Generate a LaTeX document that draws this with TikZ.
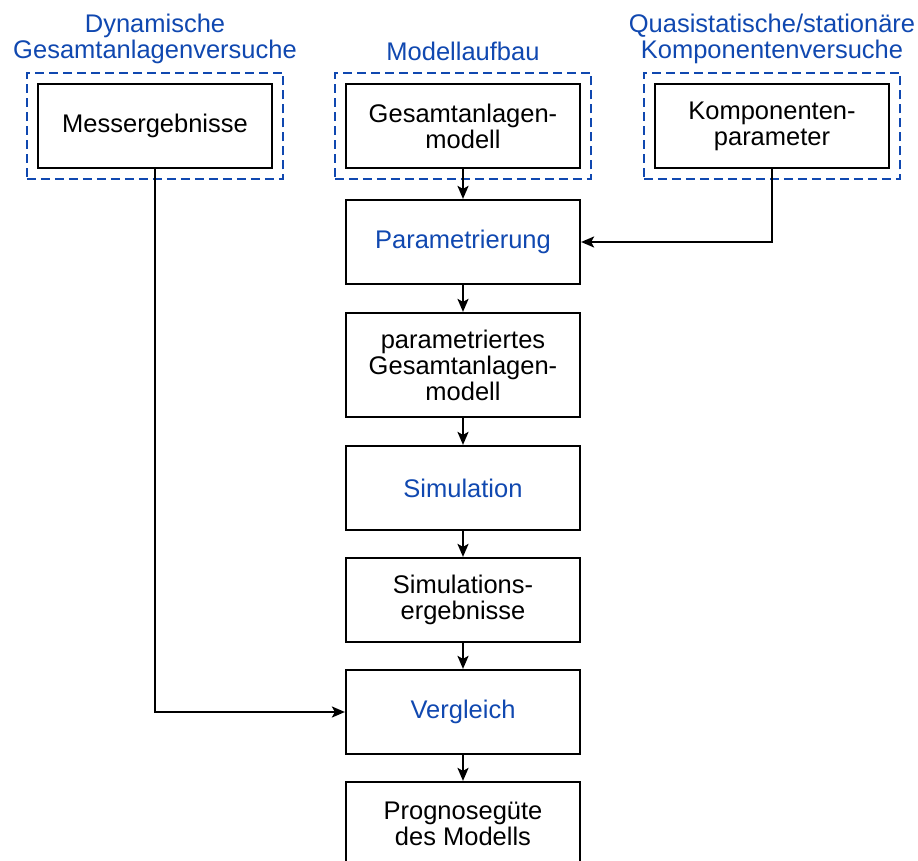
\documentclass[tikz,border=0pt]{standalone}
\usepackage{fontspec}
\setmainfont{Liberation Sans}
\usetikzlibrary{arrows.meta,fit}
\definecolor{tblue}{RGB}{16,72,176}
\begin{document}
\begin{tikzpicture}[x=1pt,y=-1pt,
  every node/.style={font=\fontsize{25.5}{26}\selectfont},
  box/.style={draw=black,line width=2.2pt,minimum width=234pt,minimum height=84pt,align=center,inner sep=0pt},
  dashbox/.style={draw=tblue,line width=2.2pt,dash pattern=on 9pt off 5pt,inner sep=10pt},
  lbl/.style={text=tblue,align=center,inner sep=0pt},
  conn/.style={line width=2.2pt,-{Stealth[length=13pt,width=11pt,inset=3pt]}},
  hl/.style={text=tblue}]
\useasboundingbox (0,0) rectangle (918,861);
\node[box] (mess) at (155,126) {Messergebnisse};
\node[box] (modell) at (463,126) {Gesamtanlagen-\\modell};
\node[box] (komp) at (772,126) {Komponenten-\\parameter};
\node[dashbox,fit=(mess)] (dmess) {};
\node[dashbox,fit=(modell)] (dmodell) {};
\node[dashbox,fit=(komp)] (dkomp) {};
\node[lbl] (ldyn) at (155,39) {Dynamische\\Gesamtanlagenversuche};
\node[lbl,anchor=base] (lmod) at (463,61) {Modellaufbau};
\node[lbl] (lqua) at (772,39) {Quasistatische/stationäre\\Komponentenversuche};
\node[box,hl] (param) at (463,242) {Parametrierung};
\node[box,minimum height=104pt] (pmod) at (463,365) {parametriertes\\Gesamtanlagen-\\modell};
\node[box,hl] (sim) at (463,488) {Simulation};
\node[box] (simerg) at (463,600) {Simulations-\\ergebnisse};
\node[box,hl] (vgl) at (463,712) {Vergleich};
\node[box] (prog) at (463,824) {Prognosegüte\\des Modells};
\draw[conn] (modell) -- (param);
\draw[conn] (param) -- (pmod);
\draw[conn] (pmod) -- (sim);
\draw[conn] (sim) -- (simerg);
\draw[conn] (simerg) -- (vgl);
\draw[conn] (vgl) -- (prog);
\draw[conn] (komp.south) |- (param.east);
\draw[conn] (mess.south) |- (vgl.west);
\end{tikzpicture}
\end{document}
